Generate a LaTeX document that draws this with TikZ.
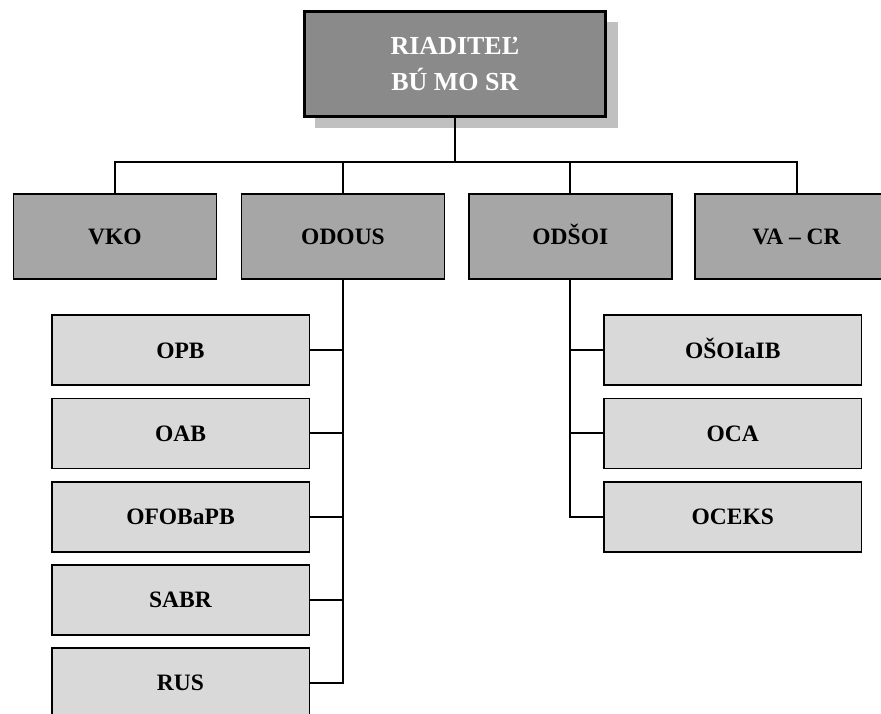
\documentclass[tikz,border=0pt]{standalone}
\usepackage{fontspec}
\setmainfont{Liberation Serif}
\definecolor{topfill}{HTML}{8A8A8A}
\definecolor{shadowfill}{HTML}{C0C0C0}
\definecolor{midfill}{HTML}{A6A6A6}
\definecolor{subfill}{HTML}{D9D9D9}
\begin{document}
\begin{tikzpicture}[x=1pt,y=-1pt,
  topbox/.style={draw=black,line width=2.5pt,fill=topfill,text=white,
    minimum width=301pt,minimum height=105pt,inner sep=0pt,align=center,
    font=\fontsize{26}{35.7}\selectfont\bfseries},
  midbox/.style={draw=black,line width=1.6pt,fill=midfill,
    minimum width=203pt,minimum height=85pt,inner sep=0pt,
    text height=16pt,text depth=0pt,
    font=\fontsize{23.5}{28}\selectfont\bfseries},
  subbox/.style={draw=black,line width=1.6pt,fill=subfill,
    minimum width=257.6pt,minimum height=70pt,inner sep=0pt,
    text height=16pt,text depth=0pt,
    font=\fontsize{23.5}{28}\selectfont\bfseries},
  conn/.style={draw=black,line width=2pt}]
\useasboundingbox (0,0) rectangle (881,714);
\begin{scope}
\clip (0,0) rectangle (881,714);
% shadow and top box
\fill[shadowfill] (315,22) rectangle (618,127.7);
\node[topbox] (top) at (454.9,64.1) {RIADITEĽ\\BÚ MO SR};
% level 2
\node[midbox] (vko) at (115,236.5) {VKO};
\node[midbox] (odous) at (343,236.5) {ODOUS};
\node[midbox] (odsoi) at (570.3,236.5) {ODŠOI};
\node[midbox] (vacr) at (796.5,236.5) {VA – CR};
% left subs
\node[subbox] (opb) at (180.5,350) {OPB};
\node[subbox] (oab) at (180.5,433.3) {OAB};
\node[subbox] (ofob) at (180.5,516.7) {OFOBaPB};
\node[subbox] (sabr) at (180.5,599.7) {SABR};
\node[subbox] (rus) at (180.5,682.7) {RUS};
% right subs
\node[subbox] (osoi) at (732.8,350) {OŠOIaIB};
\node[subbox] (oca) at (732.8,433.3) {OCA};
\node[subbox] (oceks) at (732.8,516.7) {OCEKS};
% connectors
\coordinate (j) at (454.9,162);
\draw[conn] (top.south) -- (j);
\draw[conn] (vko.north) |- (j) -| (vacr.north);
\draw[conn] (odous.north) -- (odous.north |- j);
\draw[conn] (odsoi.north) -- (odsoi.north |- j);
\draw[conn] (odous.south) |- (rus.east);
\foreach \n in {opb,oab,ofob,sabr}
  \draw[conn] (\n.east) -- (\n.east -| odous.south);
\draw[conn] (odsoi.south) |- (oceks.west);
\foreach \n in {osoi,oca}
  \draw[conn] (\n.west) -- (\n.west -| odsoi.south);
\end{scope}
\end{tikzpicture}
\end{document}
